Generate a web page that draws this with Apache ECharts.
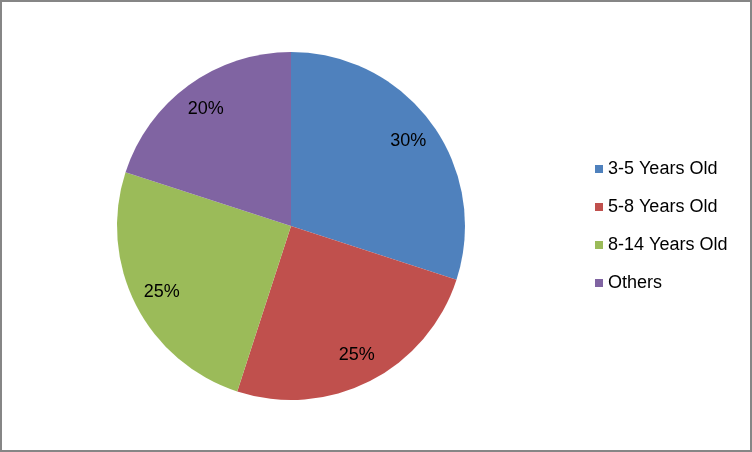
<!DOCTYPE html>
<html>
<head>
<meta charset="utf-8">
<script src="https://cdn.jsdelivr.net/npm/echarts@6/dist/echarts.min.js"></script>
<style>
html,body{margin:0;padding:0;background:#fff;}
#chart{width:752px;height:452px;}
</style>
</head>
<body>
<div id="chart"></div>
<script>
const categories = ['3-5 Years Old', '5-8 Years Old', '8-14 Years Old', 'Others'];
const values = [30, 25, 25, 20];
const colors = ['#4F81BD', '#C0504D', '#9BBB59', '#8064A2'];

const FONT = 'Liberation Sans';
const chart = echarts.init(document.getElementById('chart'), null, {renderer: 'canvas'});
const data = categories.map((c, i) => ({name: c, value: values[i]}));

chart.setOption({
  animation: false,
  backgroundColor: '#ffffff',
  color: colors,
  graphic: [{
    type: 'rect',
    shape: {x: 1, y: 1, width: 750, height: 450},
    style: {fill: 'none', stroke: '#868686', lineWidth: 2},
    silent: true,
    z: 100
  }],
  legend: {
    orient: 'vertical',
    left: 595,
    top: 159,
    padding: 0,
    icon: 'rect',
    itemWidth: 8,
    itemHeight: 8,
    itemGap: 18,
    selectedMode: false,
    data: categories,
    textStyle: {fontFamily: FONT, fontSize: 18, color: '#000', lineHeight: 20}
  },
  series: [{
    type: 'pie',
    center: [291, 226],
    radius: [0, 174],
    startAngle: 90,
    clockwise: true,
    data: data,
    label: {show: false},
    labelLine: {show: false},
    emphasis: {disabled: true},
    itemStyle: {borderWidth: 0}
  }, {
    type: 'pie',
    center: [291, 226],
    radius: [130, 154],
    startAngle: 90,
    clockwise: true,
    silent: true,
    data: data,
    itemStyle: {color: 'rgba(0,0,0,0)', borderWidth: 0},
    label: {
      show: true,
      position: 'inside',
      formatter: p => p.value + '%',
      fontFamily: FONT,
      fontSize: 18,
      color: '#000'
    },
    labelLine: {show: false},
    emphasis: {disabled: true}
  }]
});
</script>
</body>
</html>
